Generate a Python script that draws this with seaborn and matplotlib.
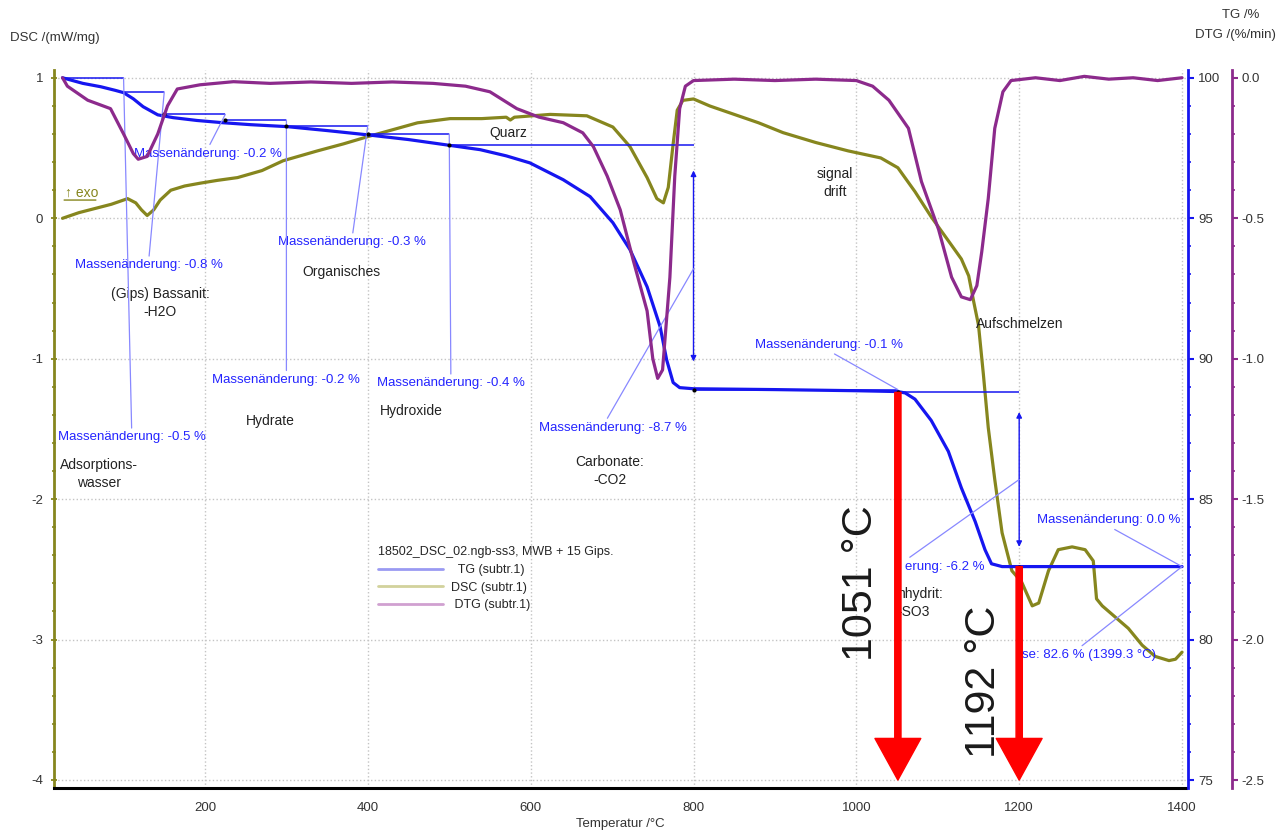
import seaborn as sns
import matplotlib.pyplot as plt
from matplotlib.lines import Line2D
from matplotlib.ticker import MultipleLocator, FormatStrFormatter

# TG curve (%)
tg_temp = [25, 50, 72, 90, 100, 112, 124, 142, 161, 190, 222, 256, 301, 350, 399, 450, 499, 538,
           570, 599, 640, 673, 701, 722, 743, 759, 767, 775, 783, 800, 900, 1000, 1051, 1060,
           1072, 1092, 1113, 1129, 1146, 1158, 1166, 1179, 1200, 1300, 1400]
tg_val = [100.0, 99.8, 99.68, 99.55, 99.47, 99.25, 98.97, 98.68, 98.58, 98.48, 98.4, 98.33, 98.26,
          98.12, 97.97, 97.8, 97.6, 97.44, 97.22, 96.97, 96.37, 95.77, 94.84, 93.88, 92.56, 91.14,
          89.96, 89.15, 88.97, 88.93, 88.9, 88.86, 88.83, 88.78, 88.56, 87.8, 86.7, 85.4, 84.2,
          83.2, 82.7, 82.6, 82.6, 82.6, 82.6]

# DSC curve (mW/mg)
dsc_temp = [25, 45, 65, 85, 105, 115, 122, 129, 137, 145, 158, 175, 194, 215, 240, 270, 296, 320,
            338, 370, 399, 430, 461, 501, 540, 570, 575, 580, 624, 669, 701, 722, 743, 755, 763,
            769, 775, 780, 787, 800, 820, 850, 880, 910, 950, 990, 1030, 1051, 1072, 1092, 1113,
            1129, 1138, 1144, 1150, 1156, 1162, 1170, 1179, 1191, 1203, 1216, 1224, 1236, 1248,
            1265, 1281, 1291, 1295, 1302, 1318, 1334, 1351, 1367, 1384, 1392, 1400]
dsc_val = [0.0, 0.04, 0.07, 0.1, 0.14, 0.11, 0.06, 0.02, 0.06, 0.13, 0.2, 0.23, 0.25, 0.27, 0.29,
           0.34, 0.41, 0.45, 0.48, 0.53, 0.58, 0.63, 0.68, 0.71, 0.71, 0.72, 0.70, 0.72, 0.74, 0.73,
           0.65, 0.51, 0.29, 0.14, 0.11, 0.22, 0.53, 0.77, 0.84, 0.85, 0.80, 0.74, 0.68, 0.61,
           0.54, 0.48, 0.43, 0.36, 0.19, 0.01, -0.16, -0.29, -0.41, -0.59, -0.76, -1.11, -1.49,
           -1.86, -2.24, -2.51, -2.59, -2.76, -2.74, -2.51, -2.36, -2.34, -2.36, -2.44, -2.71,
           -2.76, -2.84, -2.92, -3.04, -3.12, -3.15, -3.14, -3.09]

# DTG curve (%/min)
dtg_temp = [25, 31, 56, 84, 100, 112, 118, 129, 142, 154, 166, 194, 235, 280, 330, 380, 430, 480,
            520, 550, 583, 610, 640, 664, 677, 694, 710, 726, 743, 750, 756, 762, 771, 777, 783,
            790, 800, 850, 900, 950, 1000, 1020, 1040, 1064, 1080, 1101, 1117, 1129, 1140, 1148,
            1154, 1162, 1170, 1180, 1190, 1220, 1250, 1280, 1310, 1340, 1370, 1400]
dtg_val = [0.0, -0.03, -0.08, -0.11, -0.2, -0.27, -0.29, -0.28, -0.2, -0.1, -0.04, -0.025, -0.014,
           -0.02, -0.015, -0.02, -0.015, -0.02, -0.03, -0.05, -0.11, -0.14, -0.16, -0.196, -0.245,
           -0.35, -0.47, -0.65, -0.83, -1.0, -1.07, -1.04, -0.71, -0.35, -0.11, -0.03, -0.01,
           -0.005, -0.01, -0.005, -0.01, -0.03, -0.08, -0.18, -0.37, -0.54, -0.71, -0.78, -0.79,
           -0.74, -0.62, -0.43, -0.18, -0.05, -0.01, 0.0, -0.01, 0.005, -0.005, 0.0, -0.01, 0.0]

# mass change evaluation steps (temperature, TG level at step start)
step_temp = [25, 100, 150, 225, 300, 400, 500, 800, 1051, 1200, 1400]
step_tg = [100.0, 99.5, 98.7, 98.5, 98.3, 98.0, 97.6, 88.9, 88.8, 82.6, 82.6]

# vertical step arrows
arrow_temp = [800, 1200]
arrow_top = [96.7, 88.1]
arrow_bottom = [89.9, 83.3]

# blue mass change labels: text, label position (°C, DSC), leader target (°C, TG)
mass_text = ['Massenänderung: -0.5 %', 'Massenänderung: -0.8 %', 'Massenänderung: -0.2 %',
             'Massenänderung: -0.3 %', 'Massenänderung: -0.2 %', 'Massenänderung: -0.4 %',
             'Massenänderung: -8.7 %', 'Massenänderung: -0.1 %', 'erung: -6.2 %',
             'Massenänderung: 0.0 %', 'se: 82.6 % (1399.3 °C)']
mass_x = [110, 131, 204, 381, 300, 502, 701, 966, 1060, 1310, 1203]
mass_y = [-1.56, -0.335, 0.46, -0.17, -1.15, -1.175, -1.49, -0.9, -2.48, -2.15, -3.11]
lead_x = [100, 150, 225, 400, 300, 500, 800, 1051, 1200, 1400, 1400]
lead_y = [100.0, 99.5, 98.7, 98.3, 98.5, 98.0, 93.2, 88.9, 85.7, 82.6, 82.6]
mass_ha = ['center'] * 8 + ['left', 'center', 'left']
lead_rel = [(0.5, 1), (0.5, 1), (0.5, 1), (0.5, 1), (0.5, 1), (0.5, 1), (0.45, 1),
            (0.5, 0), (0, 1), (0.5, 0), (0.42, 1)]

# black process notes (°C, DSC)
note_text = ['Quarz', 'signal\ndrift', 'Aufschmelzen', 'Organisches', '(Gips) Bassanit:\n-H2O',
             'Hydrate', 'Hydroxide', 'Adsorptions-\nwasser', 'Carbonate:\n-CO2', 'nhydrit:\n-SO3']
note_x = [573, 974, 1201, 367, 145, 280, 454, 70, 697, 1050]
note_y = [0.605, 0.25, -0.75, -0.38, -0.605, -1.44, -1.37, -1.82, -1.80, -2.74]
note_ha = ['center'] * 9 + ['left']

# red temperature markers
red_temp = [1051, 1200]
red_start = [88.8, 82.6]
red_text = ['1051 °C', '1192 °C']
red_text_x = [1006, 1157]
red_text_y = [-2.6, -3.3]

TG_C = '#1616f0'
DSC_C = '#86861e'
DTG_C = '#8c2a8c'
LABEL_C = '#2424ff'
LEAD_C = '#8888ff'
TXT_C = '#222222'

sns.set_style('white')
plt.rcParams['font.family'] = ['Liberation Sans', 'DejaVu Sans']
plt.rcParams['axes.unicode_minus'] = False

fig = plt.figure(figsize=(12.87, 8.34), dpi=100)
ax = fig.add_axes([0.0416, 0.0552, 0.880, 0.861])
ax_tg = ax.twinx()
ax_dtg = ax.twinx()

sns.lineplot(x=dsc_temp, y=dsc_val, ax=ax, color=DSC_C, linewidth=2.3)
sns.lineplot(x=tg_temp, y=tg_val, ax=ax_tg, color=TG_C, linewidth=2.3)
sns.lineplot(x=dtg_temp, y=dtg_val, ax=ax_dtg, color=DTG_C, linewidth=2.3)

ax.set_xlim(14, 1405)
ax.set_ylim(-4.057, 1.057)
ax_tg.set_ylim(74.72, 100.28)
ax_dtg.set_ylim(-2.528, 0.028)

# spines
ax.spines['top'].set_visible(False)
ax.spines['right'].set_visible(False)
ax.spines['left'].set_color(DSC_C)
ax.spines['left'].set_linewidth(2)
ax.spines['bottom'].set_color('black')
ax.spines['bottom'].set_linewidth(2.2)
for a, c, off in [(ax_tg, TG_C, 1.5), (ax_dtg, DTG_C, 33)]:
    for s in ['top', 'left', 'bottom']:
        a.spines[s].set_visible(False)
    a.spines['right'].set_color(c)
    a.spines['right'].set_linewidth(2)
    a.spines['right'].set_position(('outward', off))

# grid
ax.set_axisbelow(True)
ax.grid(True, which='major', linestyle=':', color='#c4c4c4', linewidth=1)

# ticks
ax.set_xticks(range(200, 1401, 200))
ax.xaxis.set_minor_locator(MultipleLocator(100))
ax.tick_params(axis='x', which='major', direction='out', length=4, width=1.5,
               labelsize=9.5, labelcolor='#333333', pad=6)
ax.tick_params(axis='x', which='minor', direction='out', length=3, width=1.5)
ax.set_yticks([-4, -3, -2, -1, 0, 1])
ax.yaxis.set_minor_locator(MultipleLocator(0.2))
ax.tick_params(axis='y', which='both', direction='inout', color=DSC_C, labelsize=9.5,
               labelcolor='#333333', pad=5)
ax.tick_params(axis='y', which='major', length=5, width=1.3)
ax.tick_params(axis='y', which='minor', length=3, width=1.2)

ax_tg.set_yticks([75, 80, 85, 90, 95, 100])
ax_tg.yaxis.set_minor_locator(MultipleLocator(1))
ax_tg.tick_params(axis='y', which='both', direction='out', color=TG_C, labelsize=9.5,
                  labelcolor='#333333', pad=3)
ax_tg.tick_params(axis='y', which='major', length=4, width=1.5)
ax_tg.tick_params(axis='y', which='minor', length=2.5, width=1.2)

ax_dtg.set_yticks([-2.5, -2.0, -1.5, -1.0, -0.5, 0.0])
ax_dtg.yaxis.set_major_formatter(FormatStrFormatter('%.1f'))
ax_dtg.yaxis.set_minor_locator(MultipleLocator(0.1))
ax_dtg.tick_params(axis='y', which='both', direction='out', color=DTG_C, labelsize=9.5,
                   labelcolor='#333333', pad=3)
ax_dtg.tick_params(axis='y', which='major', length=4, width=1.5)
ax_dtg.tick_params(axis='y', which='minor', length=2.5, width=1.2)

ax.set_xlabel('Temperatur /°C', fontsize=9.5, color='#333333', labelpad=3)
ax.set_ylabel('')
ax_tg.set_ylabel('')
ax_dtg.set_ylabel('')
fig.text(10 / 1287, 1 - 38 / 834, 'DSC /(mW/mg)', fontsize=9.5, color='#333333', va='center')
fig.text(1222 / 1287, 1 - 15 / 834, 'TG /%', fontsize=9.5, color='#333333', va='center')
fig.text(1195 / 1287, 1 - 35 / 834, 'DTG /(%/min)', fontsize=9.5, color='#333333', va='center')

# exo marker
ax.text(28, 0.135, '↑ exo', color=DSC_C, fontsize=10, ha='left', va='bottom')
ax.annotate('', xy=(66, 0.13), xytext=(27, 0.13),
            arrowprops=dict(arrowstyle='-', color=DSC_C, lw=1, shrinkA=0, shrinkB=0))

# step evaluation lines
ax_tg.hlines(step_tg[:-1], step_temp[:-1], step_temp[1:], color=TG_C, linewidth=1.1)
ax_tg.scatter(step_temp[2:-1], step_tg[2:-1], s=9, color='black', zorder=5, linewidths=0)
for t, top, bot in zip(arrow_temp, arrow_top, arrow_bottom):
    ax_tg.annotate('', xy=(t, bot), xytext=(t, top),
                   arrowprops=dict(arrowstyle='<|-|>', color=TG_C, lw=1, mutation_scale=8,
                                   shrinkA=0, shrinkB=0))

# mass change labels with leader lines
for txt, lx, ly, tx, ty, ha, rp in zip(mass_text, mass_x, mass_y, lead_x, lead_y, mass_ha, lead_rel):
    ax_tg.annotate(txt, xy=(tx, ty), xycoords='data', xytext=(lx, ly),
                   textcoords=ax.transData, ha=ha, va='center', fontsize=9.5, color=LABEL_C,
                   arrowprops=dict(arrowstyle='-', color=LEAD_C, lw=0.9, relpos=rp,
                                   shrinkA=0, shrinkB=0))

# process notes
for txt, nx, ny, ha in zip(note_text, note_x, note_y, note_ha):
    ax.text(nx, ny, txt, ha=ha, va='center', fontsize=10, color=TXT_C,
            multialignment='center' if ha == 'center' else 'left', linespacing=1.35)

# red temperature arrows
for t, s in zip(red_temp, red_start):
    ax_dtg.annotate('', xy=(t, 75), xycoords=ax_tg.transData, xytext=(t, s),
                    textcoords=ax_tg.transData,
                    arrowprops=dict(facecolor='#ff0000', edgecolor='#ff0000', width=4.5,
                                    headwidth=33, headlength=30, shrink=0))
for txt, rx, ry in zip(red_text, red_text_x, red_text_y):
    ax_dtg.text(rx, ry, txt, transform=ax.transData, rotation=90, ha='center', va='center',
                fontsize=31, color='#1a1a1a')

# legend
handles = [Line2D([], [], color='#9a9af2', lw=2),
           Line2D([], [], color='#d2d29c', lw=2),
           Line2D([], [], color='#d0a0d0', lw=2)]
fig.legend(handles, ['  TG (subtr.1)', 'DSC (subtr.1)', ' DTG (subtr.1)'],
           title='18502_DSC_02.ngb-ss3, MWB + 15 Gips.', loc='upper left',
           bbox_to_anchor=(372 / 1287, 1 - 540 / 834), frameon=False, fontsize=9,
           title_fontsize=9, handlelength=5.2, handletextpad=0.6, labelspacing=0.45,
           borderpad=0, alignment='left')

fig.savefig('out.png', dpi=100)
